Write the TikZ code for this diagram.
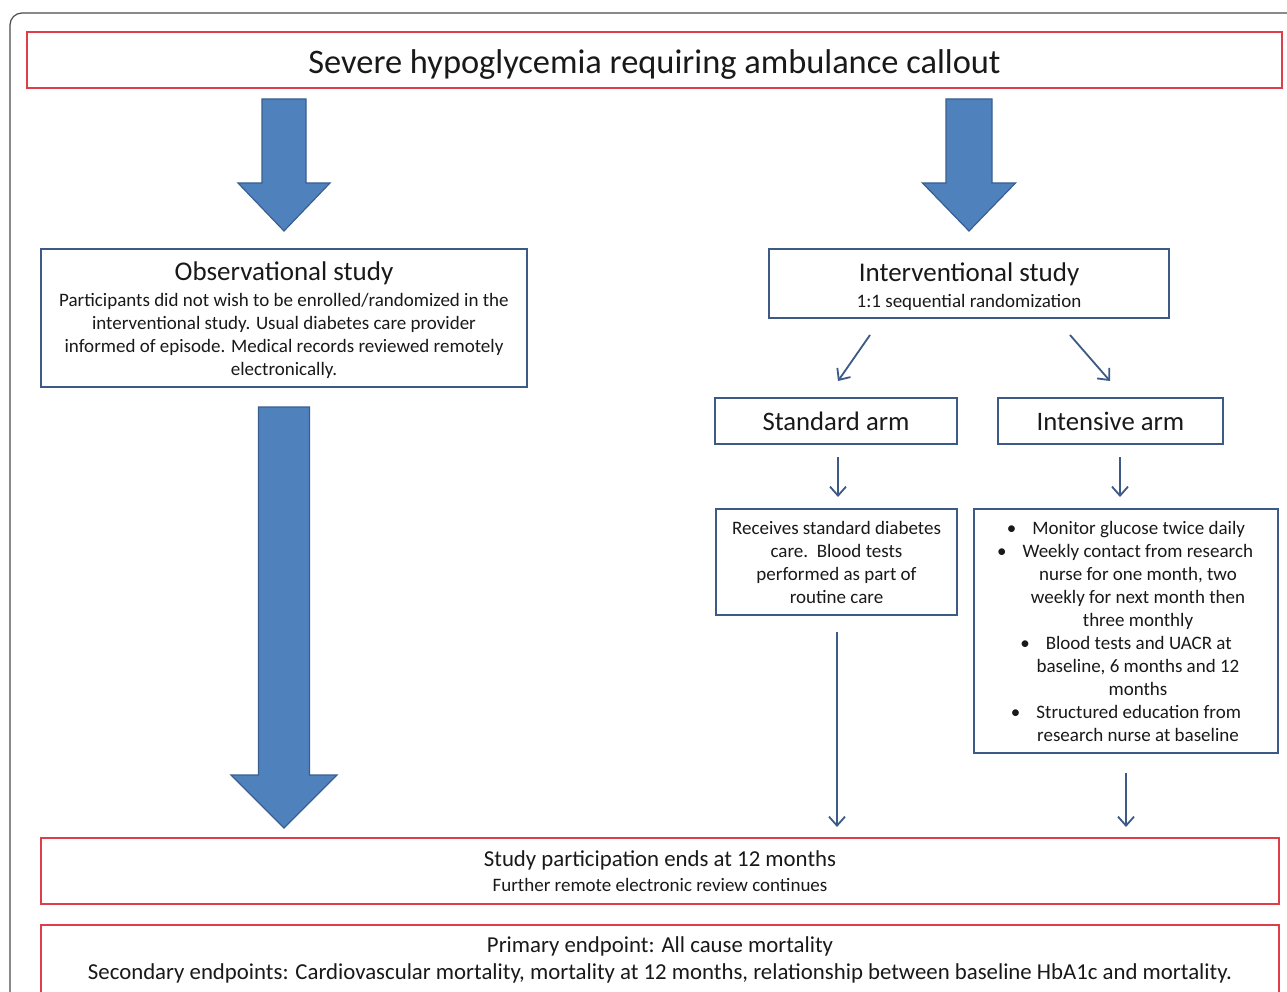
\documentclass[tikz,border=0pt]{standalone}
\usepackage{fontspec}
\setmainfont{Carlito}
\usetikzlibrary{arrows.meta}
\newcommand{\fs}[2]{\fontsize{#1}{#2}\selectfont}
\definecolor{boxred}{RGB}{222,62,72}
\definecolor{boxblue}{RGB}{60,90,133}
\definecolor{arrfill}{RGB}{79,129,189}
\definecolor{arrdraw}{RGB}{58,95,143}
\definecolor{txt}{RGB}{25,25,25}
\tikzset{
  x=1pt, y=-1pt,
  redbox/.style={draw=boxred, line width=2.2pt, inner sep=0pt, outer sep=0pt, text=txt},
  bluebox/.style={draw=boxblue, line width=1.8pt, inner sep=0pt, outer sep=0pt, text=txt, align=center, font=\fs{19}{23}},
  blockarrow/.style={fill=arrfill, draw=arrdraw, line width=1.2pt, line join=miter},
  thinarrow/.style={draw=boxblue, line width=1.8pt, -{Straight Barb[length=9pt,width=16pt,line width=1.8pt]}},
}
\begin{document}
\begin{tikzpicture}
\useasboundingbox (0,0) rectangle (1287,992);
\clip (0,0) rectangle (1287,992);
\fill[white] (0,0) rectangle (1287,992);
% outer frame
\draw[draw=black!70, line width=1.2pt, rounded corners=12pt] (10,13) rectangle (1310,1020);

% top box
\node[redbox, minimum width=1255, minimum height=56, font=\fs{34.4}{40}] (top) at (654.5,60) {\rule{0pt}{32pt}Severe hypoglycemia requiring ambulance callout};

% observational
\node[bluebox, minimum width=486, minimum height=138] (obs) at (284,318)
 {{\fs{27}{30}\rule{0pt}{24pt}Observational study}\\[3pt]
 Participants did not wish to be enrolled/randomized in the\\
 interventional study. Usual diabetes care provider\\
 informed of episode. Medical records reviewed remotely\\
 electronically.};

% interventional
\node[bluebox, minimum width=400, minimum height=69] (int) at (969,283.5)
 {{\fs{27}{30}\rule{0pt}{25pt}Interventional study}\\[3pt]
 1:1 sequential randomization};

\node[bluebox, minimum width=242, minimum height=46, font=\fs{26.7}{30}] (std) at (836,421) {Standard arm};
\node[bluebox, minimum width=225, minimum height=46, font=\fs{26.7}{30}] (ins) at (1110.5,421) {Intensive arm};

\node[bluebox, minimum width=241, minimum height=106] (stdtxt) at (836.5,562)
 {Receives standard diabetes\\
 care.\ \ Blood tests\\
 performed as part of\\
 routine care};

\node[bluebox, minimum width=304, minimum height=244] (instxt) at (1126,631)
 {\textbullet\hspace{16pt}Monitor glucose twice daily\\
 \hspace*{-2pt}\textbullet\hspace{16pt}Weekly contact from research\\
 \hspace*{24pt}nurse for one month, two\\
 \hspace*{24pt}weekly for next month then\\
 \hspace*{24pt}three monthly\\
 \textbullet\hspace{16pt}Blood tests and UACR at\\
 \hspace*{24pt}baseline, 6 months and 12\\
 \hspace*{24pt}months\\
 \textbullet\hspace{16pt}Structured education from\\
 \hspace*{24pt}research nurse at baseline};

% bottom boxes
\node[redbox, minimum width=1238, minimum height=66, align=center] (end) at (660,871)
 {{\fs{22.8}{26}Study participation ends at 12 months}\\[7pt]
 {\fs{19}{26}Further remote electronic review continues}};

\node[redbox, minimum width=1238, minimum height=70, align=center] (ep) at (660,960)
 {{\fs{22.8}{28}Primary endpoint: All cause mortality}\\[7pt]
 {\fs{22.8}{28}Secondary endpoints: Cardiovascular mortality, mortality at 12 months, relationship between baseline HbA1c and mortality.}};

% block arrows
\draw[blockarrow] (262,99) -- (306,99) -- (306,183) -- (330,183) -- (284,231) -- (238,183) -- (262,183) -- cycle;
\draw[blockarrow] (946,99) -- (992,99) -- (992,183) -- (1015.5,183) -- (969,231) -- (922.5,183) -- (946,183) -- cycle;
\draw[blockarrow] (258.5,407) -- (309.5,407) -- (309.5,775) -- (337,775) -- (284,828) -- (231,775) -- (258.5,775) -- cycle;

% thin arrows
\coordinate (d1s) at (870,335);
\coordinate (d1e) at (838,381);
\coordinate (d2s) at (1070,335);
\coordinate (d2e) at (1110,381);
\draw[thinarrow] (d1s) -- (d1e);
\draw[thinarrow] (d2s) -- (d2e);
\draw[thinarrow] ([xshift=2pt,yshift=-13pt]std.south) -- ([xshift=1.5pt,yshift=12pt]stdtxt.north);
\draw[thinarrow] ([xshift=9.5pt,yshift=-13pt]ins.south) -- ([xshift=-6pt,yshift=12pt]instxt.north);
\draw[thinarrow] ([xshift=0.5pt,yshift=-17pt]stdtxt.south) -- ([xshift=177pt,yshift=11pt]end.north);
\draw[thinarrow] ([yshift=-20pt]instxt.south) -- ([xshift=466pt,yshift=11pt]end.north);
\end{tikzpicture}
\end{document}
